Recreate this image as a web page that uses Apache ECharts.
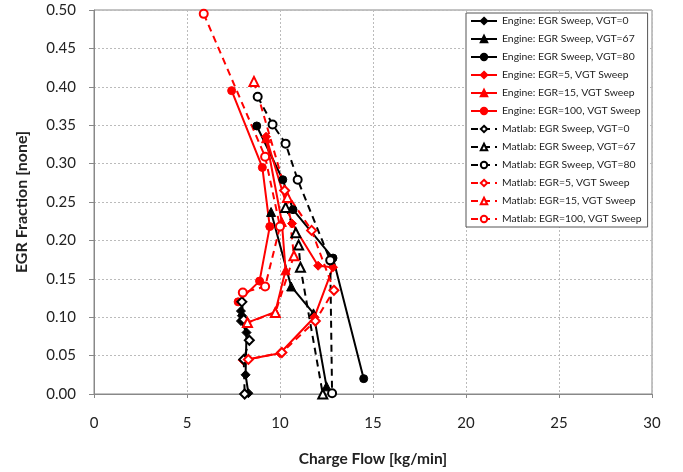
<!DOCTYPE html>
<html>
<head>
<meta charset="utf-8">
<script src="https://cdn.jsdelivr.net/npm/echarts@6/dist/echarts.min.js"></script>
<style>
  html, body { margin: 0; padding: 0; background: #fff; }
  #chart { width: 683px; height: 472px; }
</style>
</head>
<body>
<div id="chart"></div>
<script>
// values: [charge flow kg/min, EGR fraction]
const engVgt0 = [[7.9, 0.108], [7.95, 0.102], [7.9, 0.095], [8.2, 0.080], [8.15, 0.025], [8.3, 0.001]];
const engVgt67 = [[9.52, 0.237], [10.6, 0.140], [11.8, 0.105], [12.5, 0.010]];
const engVgt80 = [[8.75, 0.349], [10.15, 0.279], [10.7, 0.240], [12.85, 0.177], [14.5, 0.020]];
const engEgr5 = [[9.25, 0.335], [10.65, 0.222], [12.05, 0.167], [12.85, 0.165], [11.85, 0.100], [10.0, 0.053], [8.0, 0.044]];
const engEgr15 = [[9.25, 0.333], [10.1, 0.224], [10.3, 0.161], [9.75, 0.107], [8.25, 0.093]];
const engEgr100 = [[7.4, 0.395], [9.05, 0.295], [9.45, 0.218], [8.9, 0.147], [7.75, 0.120]];

const matVgt0 = [[7.95, 0.120], [8.05, 0.097], [8.35, 0.070], [8.05, 0.045], [8.1, 0.000]];
const matVgt67 = [[10.3, 0.243], [10.85, 0.210], [11.0, 0.194], [11.1, 0.165], [12.3, 0.000]];
const matVgt80 = [[8.8, 0.387], [9.6, 0.351], [10.3, 0.326], [10.95, 0.279], [12.7, 0.174], [12.8, 0.001]];
const matEgr5 = [[10.25, 0.265], [11.7, 0.213], [12.9, 0.135], [11.9, 0.095], [10.1, 0.054], [8.3, 0.045]];
const matEgr15 = [[8.6, 0.407], [10.4, 0.256], [10.75, 0.180], [9.75, 0.106], [8.25, 0.093]];
const matEgr100 = [[5.9, 0.495], [9.2, 0.309], [10.0, 0.218], [9.2, 0.140], [8.0, 0.132]];

const xTicks = [0, 5, 10, 15, 20, 25, 30];

const font = 'Lato, "Open Sans", sans-serif';

function mk(name, data, color, symbol, dashed) {
  const big = /triangle|diamond/i.test(symbol);
  return {
    name: name,
    type: 'line',
    data: data,
    symbol: symbol,
    symbolSize: big ? 9 : 8,
    color: color,
    lineStyle: { color: color, width: 2, type: dashed ? [7, 5] : 'solid' },
    itemStyle: { color: color, borderColor: color, borderWidth: 1 },
    animation: false
  };
}

const series = [
  mk('Engine: EGR Sweep, VGT=0', engVgt0, '#000', 'diamond', false),
  mk('Engine: EGR Sweep, VGT=67', engVgt67, '#000', 'triangle', false),
  mk('Engine: EGR Sweep, VGT=80', engVgt80, '#000', 'circle', false),
  mk('Engine: EGR=5, VGT Sweep', engEgr5, '#ff0000', 'diamond', false),
  mk('Engine: EGR=15, VGT Sweep', engEgr15, '#ff0000', 'triangle', false),
  mk('Engine: EGR=100, VGT Sweep', engEgr100, '#ff0000', 'circle', false),
  mk('Matlab: EGR Sweep, VGT=0', matVgt0, '#000', 'emptyDiamond', true),
  mk('Matlab: EGR Sweep, VGT=67', matVgt67, '#000', 'emptyTriangle', true),
  mk('Matlab: EGR Sweep, VGT=80', matVgt80, '#000', 'emptyCircle', true),
  mk('Matlab: EGR=5, VGT Sweep', matEgr5, '#ff0000', 'emptyDiamond', true),
  mk('Matlab: EGR=15, VGT Sweep', matEgr15, '#ff0000', 'emptyTriangle', true),
  mk('Matlab: EGR=100, VGT Sweep', matEgr100, '#ff0000', 'emptyCircle', true)
];

const chart = echarts.init(document.getElementById('chart'));
chart.setOption({
  backgroundColor: '#fff',
  animation: false,
  textStyle: { fontFamily: font },
  grid: {
    left: 94, right: 31, top: 10, bottom: 78,
    outerBoundsMode: 'none',
    containLabel: false,
    show: true, borderColor: '#888', borderWidth: 1
  },
  legend: {
    orient: 'vertical',
    left: 466, top: 13,
    itemWidth: 26, itemHeight: 8, itemGap: 8,
    padding: [3, 6, 3, 4],
    borderColor: '#555', borderWidth: 1,
    backgroundColor: '#fff',
    textStyle: { fontFamily: font, fontSize: 10.4, color: '#222' },
    data: series.map(s => s.name)
  },
  xAxis: {
    type: 'value',
    min: xTicks[0], max: xTicks[xTicks.length - 1], interval: 5,
    name: 'Charge Flow [kg/min]',
    nameLocation: 'middle', nameGap: 57,
    nameTextStyle: { fontFamily: font, fontSize: 15.5, fontWeight: 'bold', color: '#222' },
    axisLine: { lineStyle: { color: '#888' } },
    axisTick: { show: true, inside: false, length: 4, lineStyle: { color: '#888' } },
    axisLabel: { fontSize: 15, color: '#222', margin: 22 },
    splitLine: { show: true, lineStyle: { color: '#bbb', type: [2, 2] } }
  },
  yAxis: {
    type: 'value',
    min: 0, max: 0.5, interval: 0.05,
    name: 'EGR Fraction [none]',
    nameLocation: 'middle', nameGap: 64,
    nameTextStyle: { fontFamily: font, fontSize: 16, fontWeight: 'bold', color: '#222' },
    axisLine: { show: true, lineStyle: { color: '#888' } },
    axisTick: { show: true, inside: false, length: 5, lineStyle: { color: '#888' } },
    axisLabel: { fontSize: 15, color: '#222', margin: 18, formatter: v => v.toFixed(2) },
    splitLine: { show: true, lineStyle: { color: '#bbb', type: [2, 2] } }
  },
  series: series
});
</script>
</body>
</html>
